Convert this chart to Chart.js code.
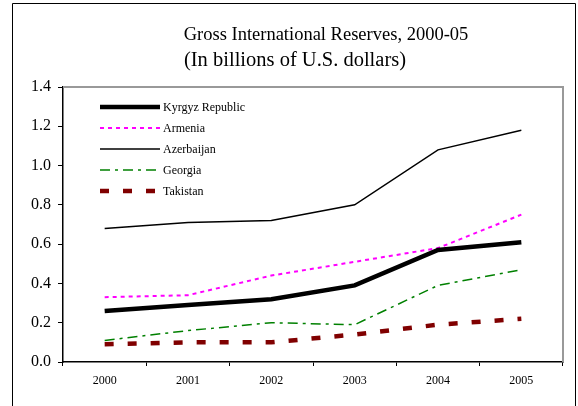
<!DOCTYPE html>
<html>
<head>
<meta charset="utf-8">
<script src="https://cdn.jsdelivr.net/npm/chart.js@4"></script>
<style>
  html, body { margin: 0; padding: 0; background: #fff; }
  #wrap { width: 578px; height: 406px; }
</style>
</head>
<body>
<div id="wrap"><canvas id="myChart" width="578" height="406"></canvas></div>
<script>
const years = ["2000", "2001", "2002", "2003", "2004", "2005"];
const yTicks = [0, 0.2, 0.4, 0.6, 0.8, 1.0, 1.2, 1.4];
const kyrgyz = [0.26, 0.29, 0.32, 0.39, 0.57, 0.61];
const armenia = [0.33, 0.34, 0.44, 0.51, 0.58, 0.75];
const azerbaijan = [0.68, 0.71, 0.72, 0.80, 1.08, 1.18];
const georgia = [0.11, 0.16, 0.20, 0.19, 0.39, 0.47];
const takistan = [0.09, 0.10, 0.10, 0.14, 0.19, 0.22];

const titleText = "Gross International Reserves, 2000-05";
const subtitleText = "(In billions of U.S. dollars)";
const serif = "'Liberation Serif', 'Times New Roman', serif";

// frame, titles and in-plot legend
const decorPlugin = {
    id: "decor",
    beforeDraw: function (chart) {
        const c = chart.ctx;
        c.save();
        c.fillStyle = "#fff";
        c.fillRect(0, 0, chart.width, chart.height);
        c.strokeStyle = "#000";
        c.lineWidth = 1;
        c.beginPath();
        c.moveTo(12.5, 420);
        c.lineTo(12.5, 3.5);
        c.lineTo(575.5, 3.5);
        c.lineTo(575.5, 420);
        c.stroke();
        c.fillStyle = "#000";
        c.textAlign = "center";
        c.textBaseline = "alphabetic";
        c.font = "18.5px " + serif;
        c.fillText(titleText, 326, 40);
        c.font = "20.5px " + serif;
        c.fillText(subtitleText, 295, 66);
        c.restore();
    },
    afterDatasetsDraw: function (chart) {
        const c = chart.ctx;
        const a = chart.chartArea;
        c.save();
        // gray plot border top/right
        c.strokeStyle = "#999";
        c.lineWidth = 2;
        c.beginPath();
        c.moveTo(a.left, a.top);
        c.lineTo(a.right, a.top);
        c.lineTo(a.right, a.bottom);
        c.stroke();
        // legend
        c.font = "12px " + serif;
        c.textBaseline = "middle";
        c.textAlign = "left";
        chart.data.datasets.forEach(function (ds, i) {
            const y = 107 + i * 21;
            c.strokeStyle = ds.borderColor;
            c.lineWidth = ds.borderWidth;
            c.setLineDash(ds.borderDash || []);
            c.lineCap = "butt";
            c.beginPath();
            c.moveTo(100, y);
            c.lineTo(160, y);
            c.stroke();
            c.setLineDash([]);
            c.fillStyle = "#000";
            c.fillText(ds.label, 163, y + 1);
        });
        c.restore();
    },
};

document.addEventListener("DOMContentLoaded", function () {
    const ctx = document.getElementById("myChart").getContext("2d");
    new Chart(ctx, {
        type: "line",
        data: {
            labels: years,
            datasets: [
                { label: "Kyrgyz Republic", data: kyrgyz, borderColor: "#000", borderWidth: 4.5 },
                { label: "Armenia", data: armenia, borderColor: "#ff00ff", borderWidth: 2, borderDash: [4, 4] },
                { label: "Azerbaijan", data: azerbaijan, borderColor: "#000", borderWidth: 1.5 },
                { label: "Georgia", data: georgia, borderColor: "#008000", borderWidth: 1.5, borderDash: [10, 5, 3, 5] },
                { label: "Takistan", data: takistan, borderColor: "#800000", borderWidth: 4.5, borderDash: [9, 14] },
            ],
        },
        options: {
            responsive: false,
            animation: false,
            elements: {
                point: { radius: 0 },
                line: { tension: 0, fill: false },
            },
            layout: { padding: { left: 13, top: 87, right: 15, bottom: 0 } },
            scales: {
                x: {
                    offset: true,
                    grid: {
                        offset: true,
                        drawOnChartArea: false,
                        tickLength: 4,
                        color: "#000",
                    },
                    border: { color: "#000", width: 1.5 },
                    ticks: {
                        color: "#000",
                        padding: 8,
                        font: { family: serif, size: 12 },
                        maxRotation: 0,
                    },
                    afterFit: function (s) { s.height = 44; },
                },
                y: {
                    min: 0,
                    max: 1.4,
                    afterBuildTicks: function (s) {
                        s.ticks = yTicks.map(function (v) { return { value: v }; });
                    },
                    grid: {
                        drawOnChartArea: false,
                        tickLength: 5,
                        color: "#000",
                    },
                    border: { color: "#000", width: 1.5 },
                    ticks: {
                        color: "#000",
                        padding: 7,
                        font: { family: serif, size: 16 },
                        callback: function (v) { return Number(v).toFixed(1); },
                    },
                    afterFit: function (s) { s.width = 50; },
                },
            },
            plugins: {
                legend: { display: false },
                title: { display: false },
                tooltip: { enabled: false },
            },
        },
        plugins: [decorPlugin],
    });
});
</script>
</body>
</html>
